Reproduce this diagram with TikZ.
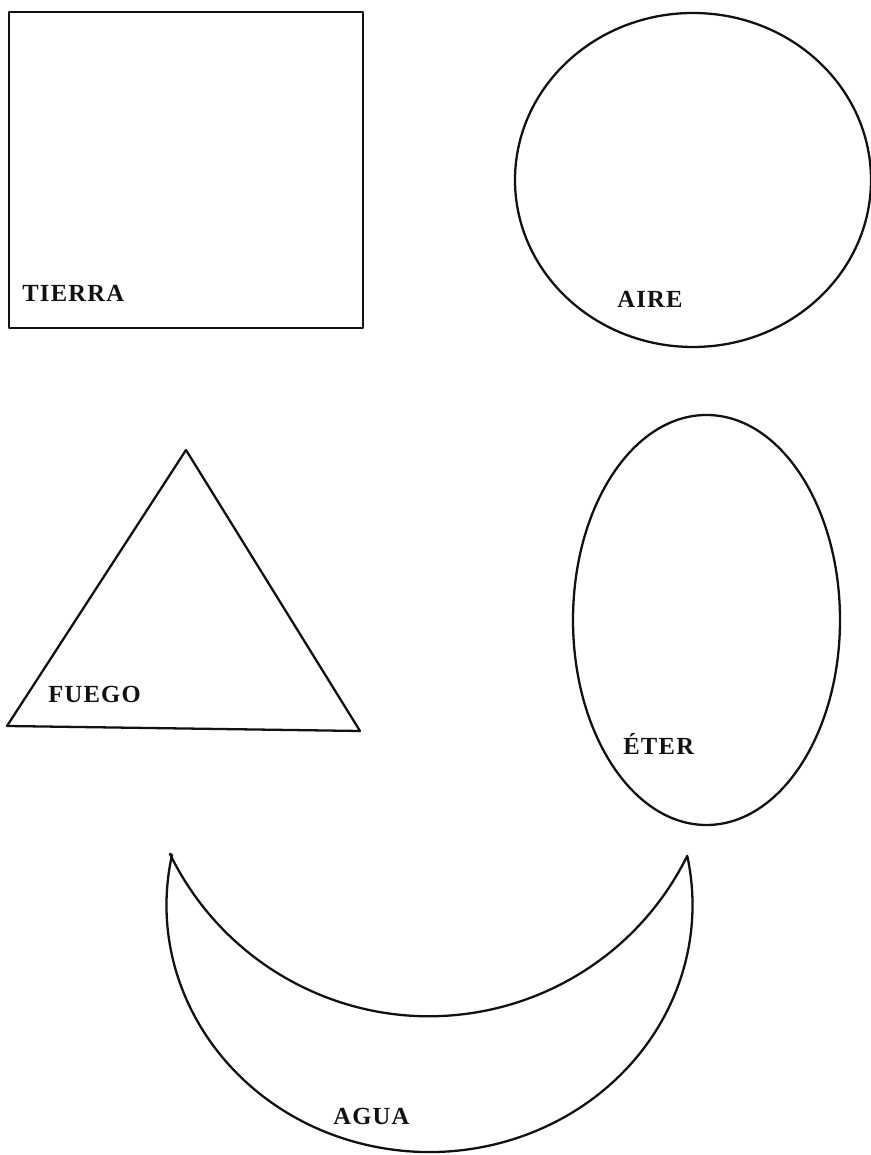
\documentclass[tikz,border=0pt]{standalone}
\usepackage{fontspec}
\usepackage{xcolor}
\usepackage{tikz}
\setmainfont{Liberation Serif}
\newfontfamily\elemfont[LetterSpace=5]{Liberation Serif}
\definecolor{ELInk}{HTML}{111111}
\definecolor{ELPaper}{HTML}{FFFFFF}
\tikzset{
  elemline/.style={ELInk,line width=1.3pt,line join=round},
  elemlabel/.style={anchor=base west,inner sep=0pt,text=ELInk,font=\elemfont\bfseries\fontsize{14}{16}\selectfont}
}

\begin{document}
\begin{tikzpicture}[x=0.02cm,y=0.02cm]
\path[use as bounding box] (0,0) rectangle (871,1155);
\fill[ELPaper] (0,0) rectangle (871,1155);
% tierra
\draw[elemline] (9,1143) rectangle (363,827);
\node[elemlabel] (tierra) at (22,853) {TIERRA};
% aire
\draw[elemline] (693,975) ellipse[x radius=178,y radius=167];
\node[elemlabel] (aire) at (617,847) {AIRE};
% fuego
\draw[elemline] (186,705) -- (7,429) -- (360,424) -- cycle;
\node[elemlabel] (fuego) at (48,452) {FUEGO};
% eter
\draw[elemline] (706.5,535) ellipse[x radius=133.5,y radius=205];
\node[elemlabel] (eter) at (623,400) {ÉTER};
% agua
\draw[elemline] (172,300) arc[start angle=168.3,end angle=371.5,x radius=263,y radius=247]
  arc[start angle=333.7,end angle=205.9,radius=288] -- cycle;
\node[elemlabel] (agua) at (333,31) {AGUA};
\end{tikzpicture}
\end{document}
